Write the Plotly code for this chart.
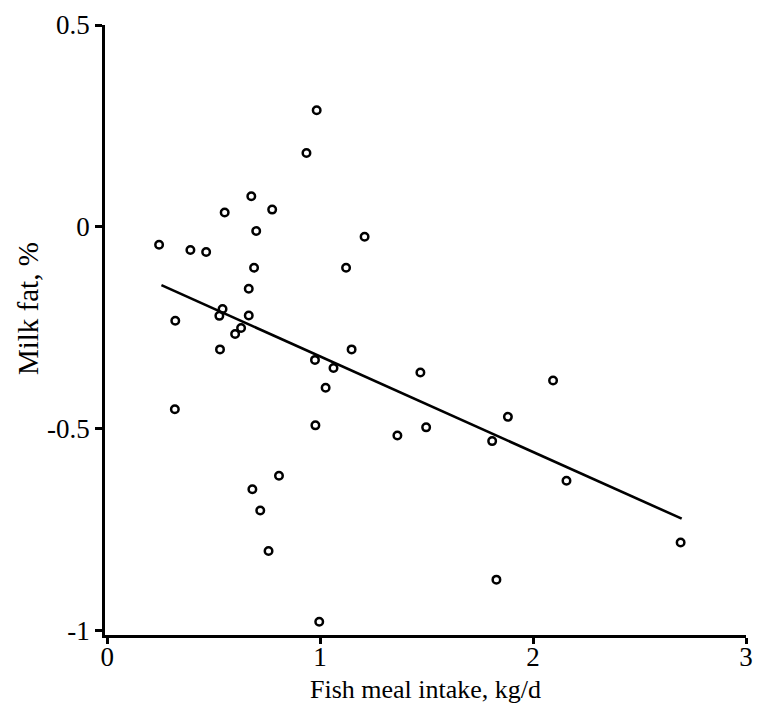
import plotly.graph_objects as go

# Fish meal intake (kg/d) and change in milk fat (%) per observation
intake = [0.244, 0.391, 0.465, 0.320, 0.318, 0.542, 0.527, 0.552, 0.530, 0.601,
          0.629, 0.665, 0.665, 0.677, 0.690, 0.700, 0.775, 0.682, 0.719, 0.758,
          0.807, 0.936, 0.984, 0.976, 1.026, 1.063, 0.978, 0.996, 1.122, 1.209,
          1.148, 1.363, 1.471, 1.498, 1.808, 1.882, 1.828, 2.094, 2.157, 2.693]
milk_fat = [-0.044, -0.057, -0.062, -0.232, -0.451, -0.203, -0.220, 0.036, -0.303, -0.265,
            -0.250, -0.219, -0.153, 0.076, -0.101, -0.010, 0.043, -0.649, -0.702, -0.802,
            -0.616, 0.183, 0.289, -0.329, -0.398, -0.349, -0.491, -0.977, -0.101, -0.024,
            -0.303, -0.516, -0.360, -0.496, -0.530, -0.470, -0.873, -0.380, -0.628, -0.781]

# Fitted regression line endpoints
fit_x = [0.255, 2.698]
fit_y = [-0.144, -0.722]

x_ticks = [0, 1, 2, 3]
x_ticklabels = ["0", "1", "2", "3"]
y_ticks = [0.5, 0, -0.5, -1]
y_ticklabels = ["0.5", "0", "-0.5", "-1"]

FONT = "Liberation Serif, Times New Roman, serif"

fig = go.Figure()
fig.add_trace(go.Scatter(
    x=fit_x, y=fit_y, mode="lines",
    line=dict(color="black", width=2.6),
    hoverinfo="skip", showlegend=False,
))
fig.add_trace(go.Scatter(
    x=intake, y=milk_fat, mode="markers",
    marker=dict(symbol="circle-open", size=7.5, color="black",
                line=dict(width=2.5, color="black")),
    showlegend=False,
))

fig.update_layout(
    width=763, height=719,
    margin=dict(l=105, r=10, t=20, b=84),
    paper_bgcolor="white", plot_bgcolor="white",
    font=dict(family=FONT, size=26, color="black"),
    xaxis=dict(
        range=[-0.01, 3.0], tickvals=x_ticks, ticktext=x_ticklabels,
        showline=True, linecolor="black", linewidth=2.5,
        ticks="outside", ticklen=6, tickwidth=2.5, tickcolor="black",
        showgrid=False, zeroline=False,
        tickfont=dict(family=FONT, size=27),
        ticklabelstandoff=-10,
    ),
    yaxis=dict(
        range=[-1.01, 0.5], tickvals=y_ticks, ticktext=y_ticklabels,
        showline=True, linecolor="black", linewidth=2.5,
        ticks="outside", ticklen=7, tickwidth=2.5, tickcolor="black",
        showgrid=False, zeroline=False,
        tickfont=dict(family=FONT, size=27),
    ),
    annotations=[
        dict(
            text="Milk fat, %", textangle=-90,
            xref="paper", yref="paper", x=-0.121, y=0.535,
            xanchor="center", yanchor="middle", showarrow=False,
            font=dict(family=FONT, size=29, color="black"),
        ),
        dict(
            text="Fish meal intake, kg/d",
            xref="paper", yref="paper", x=0.5, y=-0.09,
            xanchor="center", yanchor="middle", showarrow=False,
            font=dict(family=FONT, size=26, color="black"),
        ),
    ],
)

fig.write_html("out.html")
